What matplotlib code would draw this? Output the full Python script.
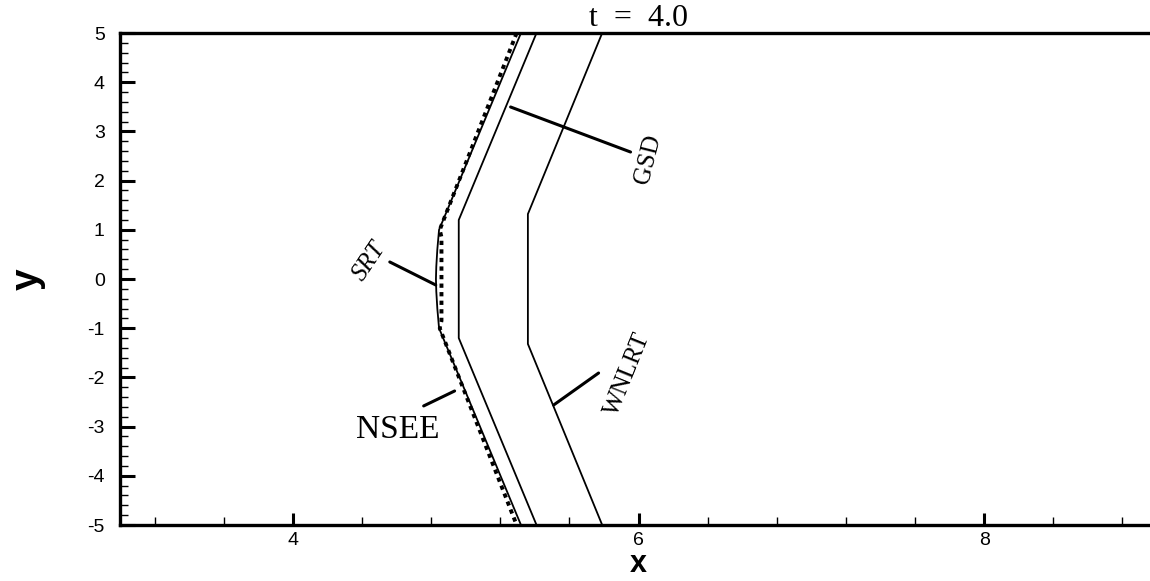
import matplotlib
matplotlib.use('Agg')
import matplotlib.pyplot as plt
from matplotlib.ticker import MultipleLocator

plt.rcParams['axes.unicode_minus'] = False

# front positions at t = 4.0
srt_x = [5.32, 4.846, 4.836, 4.830, 4.828, 4.830, 4.836, 4.846, 5.32]
srt_y = [5.0, 1.0, 0.6, 0.25, 0.0, -0.25, -0.6, -1.0, -5.0]
nsee_x = [5.295, 4.850, 4.860, 4.860, 4.850, 5.295]
nsee_y = [5.0, 1.0, 0.85, -0.85, -1.0, -5.0]
gsd_x = [5.41, 4.96, 4.96, 5.41]
gsd_y = [5.0, 1.2, -1.2, -5.0]
wnlrt_x = [5.79, 5.36, 5.36, 5.79]
wnlrt_y = [5.0, 1.32, -1.32, -5.0]

serif = 'Liberation Serif'
sans = 'Liberation Sans'

fig = plt.figure(figsize=(11.5, 5.81), dpi=100)
ax = fig.add_axes([120 / 1150, 56 / 581, 1037 / 1150, 492 / 581])

ax.plot(srt_x, srt_y, color='black', lw=1.3)
ax.plot(nsee_x, nsee_y, color='black', lw=2.8, dashes=(1.1, 1.1))
ax.plot(gsd_x, gsd_y, color='black', lw=1.3)
ax.plot(wnlrt_x, wnlrt_y, color='black', lw=1.3)

ax.set_xlim(3, 9)
ax.set_ylim(-5, 5)
ax.xaxis.set_major_locator(MultipleLocator(2))
ax.xaxis.set_minor_locator(MultipleLocator(0.4))
ax.yaxis.set_major_locator(MultipleLocator(1))
ax.yaxis.set_minor_locator(MultipleLocator(0.2))
ax.tick_params(which='both', direction='in', top=False, right=False)
ax.tick_params(axis='y', which='major', length=11, width=2.2, pad=11)
ax.tick_params(axis='x', which='major', length=9, width=2.2, pad=5)
ax.tick_params(which='minor', length=6, width=1)
for s in ax.spines.values():
    s.set_linewidth(2.4)
for lab in ax.get_xticklabels() + ax.get_yticklabels():
    lab.set_fontfamily(sans)
    lab.set_fontsize(14)

ax.set_xlabel('x', fontfamily=sans, fontweight='bold', fontsize=22, labelpad=0)
ax.set_ylabel('y', fontfamily=sans, fontweight='bold', fontsize=28, labelpad=30)
ax.set_title('t  =  4.0', fontfamily=serif, fontsize=23, pad=0)

line = dict(arrowstyle='-', color='black', lw=2.2, shrinkA=0, shrinkB=0)
ax.annotate('', xy=(4.827, -0.122), xytext=(4.561, 0.346), arrowprops=line)
ax.text(4.445, 0.366, 'SRT', fontfamily=serif, style='italic', fontsize=18,
        rotation=56, ha='center', va='center')
ax.annotate('', xy=(4.936, -2.276), xytext=(4.757, -2.58), arrowprops=line)
ax.text(4.607, -3.07, 'NSEE', fontfamily=serif, fontsize=24,
        ha='center', va='center')
ax.annotate('', xy=(5.260, 3.496), xytext=(5.954, 2.581), arrowprops=line)
ax.text(6.058, 2.44, 'GSD', fontfamily=serif, fontsize=18,
        rotation=76, ha='center', va='center')
ax.annotate('', xy=(5.509, -2.561), xytext=(5.769, -1.911), arrowprops=line)
ax.text(5.936, -1.931, 'WNLRT', fontfamily=serif, fontsize=18,
        rotation=68, ha='center', va='center')

fig.savefig('out.png', dpi=100)
